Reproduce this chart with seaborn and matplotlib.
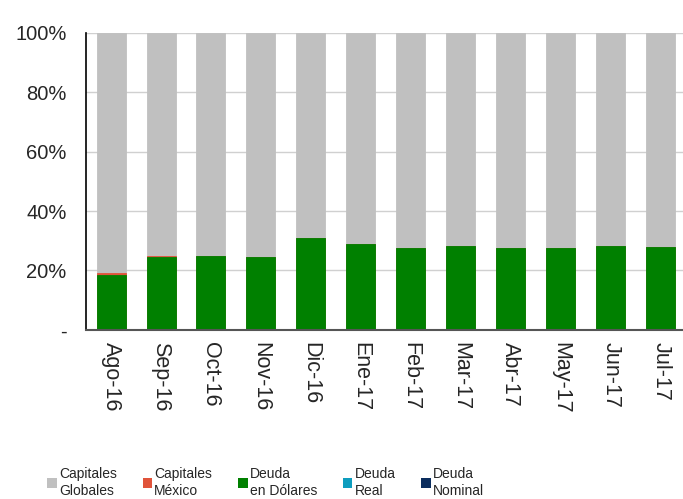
import pandas as pd
import matplotlib.pyplot as plt
import seaborn as sns
from matplotlib.patches import Patch

meses = ['Ago-16', 'Sep-16', 'Oct-16', 'Nov-16', 'Dic-16', 'Ene-17',
         'Feb-17', 'Mar-17', 'Abr-17', 'May-17', 'Jun-17', 'Jul-17']
deuda_nominal = [0, 0, 0, 0, 0, 0, 0, 0, 0, 0, 0, 0]
deuda_real = [0, 0, 0, 0, 0, 0, 0, 0, 0, 0, 0, 0]
deuda_dolares = [18.6, 24.6, 24.9, 24.6, 30.9, 29.0, 27.6, 28.2, 27.7, 27.7, 28.2, 27.9]
capitales_mexico = [0.4, 0.2, 0, 0, 0, 0, 0, 0, 0, 0, 0, 0]
capitales_globales = [81.0, 75.2, 75.1, 75.4, 69.1, 71.0, 72.4, 71.8, 72.3, 72.3, 71.8, 72.1]

series = [('Deuda\nNominal', deuda_nominal, '#0B2D5E'),
          ('Deuda\nReal', deuda_real, '#0E9DBE'),
          ('Deuda\nen Dólares', deuda_dolares, '#008000'),
          ('Capitales\nMéxico', capitales_mexico, '#E0533A'),
          ('Capitales\nGlobales', capitales_globales, '#C0C0C0')]

df = pd.DataFrame({'mes': meses})
acum = [0] * len(meses)
tops = []
for nombre, vals, color in series:
    acum = [a + v for a, v in zip(acum, vals)]
    tops.append((nombre, list(acum), color))

sns.set_style('white')
plt.rcParams['font.family'] = ['Liberation Sans', 'DejaVu Sans']

fig = plt.figure(figsize=(6.83, 4.99), dpi=100)
ax = fig.add_axes([0.126, 0.339, 0.878, 0.595])

# stacked bars: draw the cumulative totals from tallest to shortest
for nombre, vals, color in reversed(tops):
    df['v'] = vals
    sns.barplot(data=df, x='mes', y='v', color=color, width=0.58,
                saturation=1, edgecolor=color, linewidth=0.6, ax=ax, zorder=2)

ax.set_ylim(0, 100)
ax.set_xlim(-0.5, 11.5)
ax.set_yticks([0, 20, 40, 60, 80, 100])
ax.set_yticklabels(['-', '20%', '40%', '60%', '80%', '100%'], fontsize=14.5)
ax.yaxis.grid(True, color='#D0D0D0', linewidth=1, zorder=0)
ax.set_axisbelow(True)
ax.tick_params(axis='y', length=0, pad=14)
ax.tick_params(axis='x', length=0, pad=9, labelsize=15.5, labelrotation=270)
ax.set_xlabel('')
ax.set_ylabel('')
for s in ['top', 'right']:
    ax.spines[s].set_visible(False)
ax.spines['left'].set_color('black')
ax.spines['left'].set_linewidth(1.2)
ax.spines['bottom'].set_color('#555555')
ax.spines['bottom'].set_linewidth(1.5)

handles = [Patch(facecolor=c, edgecolor='none', label=n) for n, v, c in reversed(series)]
fig.legend(handles=handles, loc='lower left', ncol=5, frameon=False,
           fontsize=10, bbox_to_anchor=(0.067, 0.0), borderpad=0.1,
           borderaxespad=0, handlelength=0.7, handleheight=0.7,
           handletextpad=0.15, columnspacing=1.85, labelspacing=0)

fig.savefig('out.png', dpi=100)
